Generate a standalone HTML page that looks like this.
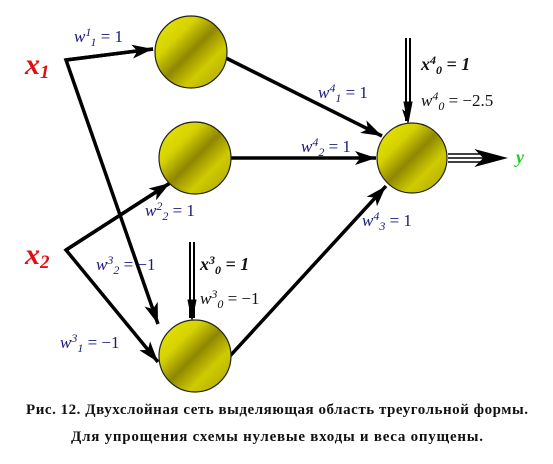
<!DOCTYPE html>
<html><head><meta charset="utf-8"><style>
body{margin:0;background:#fff;width:553px;height:459px;overflow:hidden}
svg, svg text{font-family:"Liberation Serif","Times New Roman",serif !important}
.w{fill:#1a1a7a;font-style:italic;font-size:17px}
.n{font-style:normal}
</style></head><body>
<svg width="553" height="459" font-family="Liberation Serif, serif">
<defs>
<linearGradient id="g" x1="0" y1="0" x2="1" y2="1">
<stop offset="0" stop-color="#e8e800"/><stop offset="0.3" stop-color="#d6d200"/><stop offset="0.5" stop-color="#8f8700"/><stop offset="0.7" stop-color="#cfcb00"/><stop offset="1" stop-color="#a8a000"/>
</linearGradient>
<marker id="a" markerWidth="6" markerHeight="4" refX="6" refY="2" orient="auto" markerUnits="strokeWidth"><path d="M0,0 L6,2 L0,4 L1.5,2z" fill="#000"/></marker>
</defs>
<g stroke="#000" stroke-width="3.5" fill="none">
<polyline points="153,49 66,60 158,324" marker-end="url(#a)"/>
<line x1="66" y1="60" x2="153" y2="49" marker-end="url(#a)"/>
<polyline points="170,183 66,250 158,362" marker-end="url(#a)"/>
<line x1="66" y1="250" x2="170" y2="183" marker-end="url(#a)"/>
<line x1="226" y1="58" x2="382" y2="136" marker-end="url(#a)"/>
<line x1="231" y1="158" x2="376" y2="158" marker-end="url(#a)"/>
<line x1="230" y1="356" x2="386" y2="186" marker-end="url(#a)"/>
<line x1="406" y1="38" x2="406" y2="121" stroke-width="2" marker-end="url(#a)"/>
<line x1="410" y1="38" x2="410" y2="110" stroke-width="2"/>
<line x1="190" y1="242" x2="190" y2="318" stroke-width="2"/>
<line x1="194" y1="242" x2="194" y2="318" stroke-width="2"/>
<path d="M188,300 L192,320 L196,300z" fill="#000" stroke-width="1"/>
<path d="M404,102 L408,123 L412,102z" fill="#000" stroke-width="1"/>
<line x1="448" y1="154" x2="490" y2="154" stroke-width="1.5"/>
<line x1="448" y1="158" x2="495" y2="158" stroke-width="1.5"/>
<line x1="448" y1="162" x2="490" y2="162" stroke-width="1.5"/>
<path d="M476,150 L506,158 L476,166 L484,158z" fill="#000" stroke-width="1"/>
</g>
<g stroke="#222" stroke-width="1.2" fill="url(#g)">
<circle cx="191" cy="52" r="36"/>
<circle cx="195" cy="158" r="36"/>
<circle cx="195" cy="356" r="36"/>
<circle cx="412" cy="158" r="35"/>
</g>
<text x="25" y="74" fill="#e01010" font-size="30" font-weight="bold" font-style="italic">x<tspan font-size="19" dy="4">1</tspan></text>
<text x="25" y="264" fill="#e01010" font-size="30" font-weight="bold" font-style="italic">x<tspan font-size="19" dy="4">2</tspan></text>
<text x="74" y="42" class="w">w<tspan font-size="12" dy="-6">1</tspan><tspan font-size="12" dy="10">1</tspan><tspan class="n" dy="-4"> = 1</tspan></text>
<text x="318" y="98" class="w">w<tspan font-size="12" dy="-6">4</tspan><tspan font-size="12" dy="10">1</tspan><tspan class="n" dy="-4"> = 1</tspan></text>
<text x="301" y="152" class="w">w<tspan font-size="12" dy="-6">4</tspan><tspan font-size="12" dy="10">2</tspan><tspan class="n" dy="-4"> = 1</tspan></text>
<text x="362" y="226" class="w">w<tspan font-size="12" dy="-6">4</tspan><tspan font-size="12" dy="10">3</tspan><tspan class="n" dy="-4"> = 1</tspan></text>
<text x="145" y="216" class="w">w<tspan font-size="12" dy="-6">2</tspan><tspan font-size="12" dy="10">2</tspan><tspan class="n" dy="-4"> = 1</tspan></text>
<text x="96" y="270" class="w">w<tspan font-size="12" dy="-6">3</tspan><tspan font-size="12" dy="10">2</tspan><tspan class="n" dy="-4"> = −1</tspan></text>
<text x="60" y="348" class="w">w<tspan font-size="12" dy="-6">3</tspan><tspan font-size="12" dy="10">1</tspan><tspan class="n" dy="-4"> = −1</tspan></text>
<text x="421" y="70" fill="#111" font-size="18" font-weight="bold" font-style="italic">x<tspan font-size="12" dy="-6">4</tspan><tspan font-size="12" dy="10">0</tspan><tspan dy="-4"> = 1</tspan></text>
<text x="421" y="106" fill="#111" font-size="17" font-style="italic">w<tspan font-size="12" dy="-6">4</tspan><tspan font-size="12" dy="10">0</tspan><tspan font-style="normal" dy="-4"> = −2.5</tspan></text>
<text x="200" y="270" fill="#111" font-size="18" font-weight="bold" font-style="italic">x<tspan font-size="12" dy="-6">3</tspan><tspan font-size="12" dy="10">0</tspan><tspan dy="-4"> = 1</tspan></text>
<text x="200" y="304" fill="#111" font-size="17" font-style="italic">w<tspan font-size="12" dy="-6">3</tspan><tspan font-size="12" dy="10">0</tspan><tspan font-style="normal" dy="-4"> = −1</tspan></text>
<text x="516" y="163" fill="#22cc22" font-size="18" font-weight="bold" font-style="italic">y</text>
<text x="277" y="414" text-anchor="middle" font-size="15" font-weight="bold" fill="#111" textLength="502">Рис. 12. Двухслойная сеть выделяющая область треугольной формы.</text>
<text x="277" y="441" text-anchor="middle" font-size="15" font-weight="bold" fill="#111" textLength="412">Для упрощения схемы нулевые входы и веса опущены.</text>
</svg>
</body></html>
